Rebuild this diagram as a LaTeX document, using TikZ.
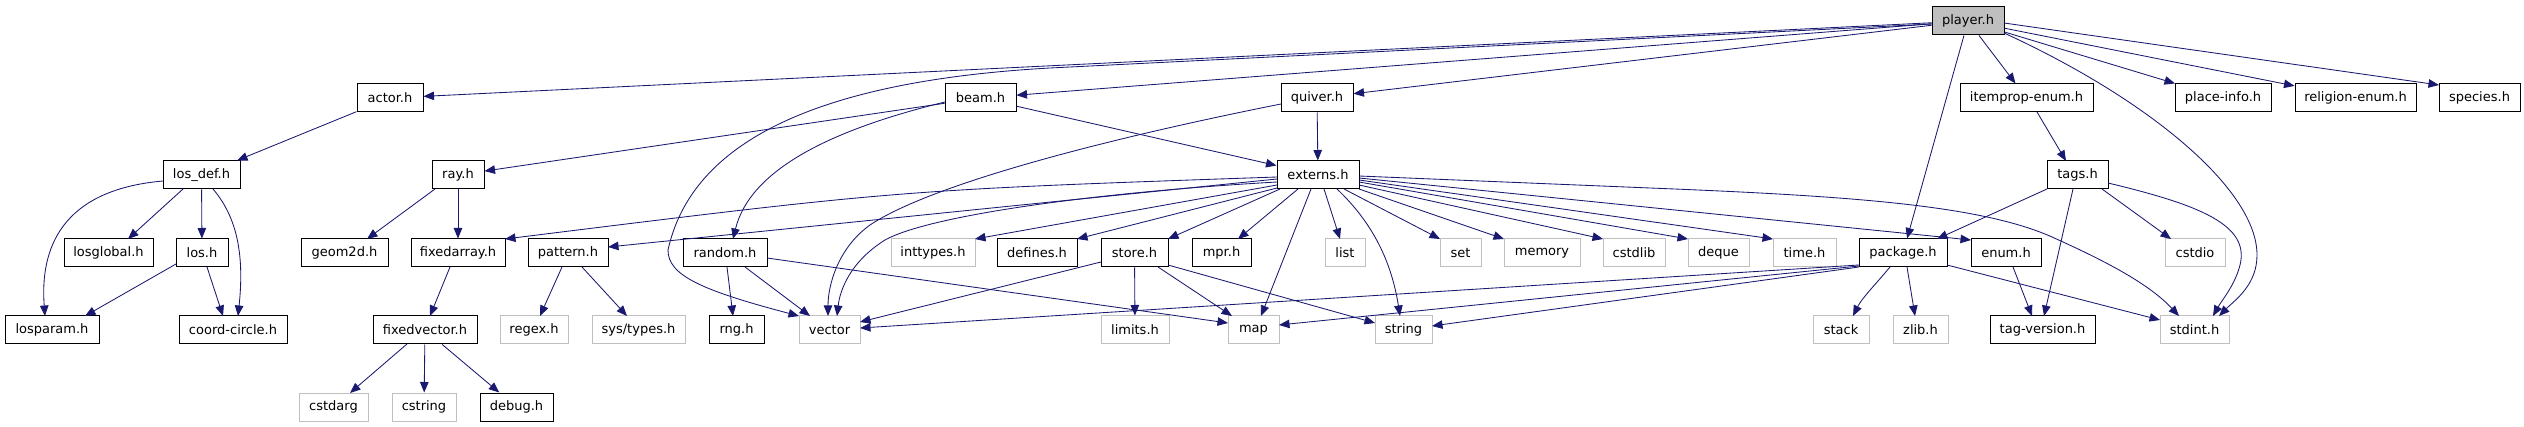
\documentclass[tikz,border=0pt]{standalone}
\usepackage{fontspec}
\setmainfont{DejaVu Sans}
\usetikzlibrary{arrows.meta,calc}
\definecolor{edgeblue}{HTML}{191970}
\definecolor{sysgray}{HTML}{BFBFBF}
\begin{document}
\begin{tikzpicture}[x=1pt,y=-1pt,
  hdr/.style={draw=black,line width=1pt,fill=white,inner sep=0pt,minimum height=28pt,font=\fontsize{13}{15}\selectfont,text=black},
  sys/.style={hdr,draw=sysgray},
  cur/.style={hdr,fill=sysgray},
  e/.style={draw=edgeblue,line width=0.85pt,-{Triangle[length=10.5pt,width=8.5pt]}}]
\useasboundingbox (0,0) rectangle (2524,427);
% row 0
\node[cur,minimum width=72pt] (player) at (1968,21) {player.h};
% row 1
\node[hdr,minimum width=66pt] (actor) at (390,98) {actor.h};
\node[hdr,minimum width=71pt] (beam) at (980.5,98) {beam.h};
\node[hdr,minimum width=72pt] (quiver) at (1317,98) {quiver.h};
\node[hdr,minimum width=133pt] (itemprop) at (2026.5,98) {itemprop-enum.h};
\node[hdr,minimum width=96pt] (placeinfo) at (2223,98) {place-info.h};
\node[hdr,minimum width=121pt] (religion) at (2355.5,98) {religion-enum.h};
\node[hdr,minimum width=81pt] (species) at (2479.5,98) {species.h};
% row 2
\node[hdr,minimum width=77pt] (losdef) at (201.5,175) {los\_def.h};
\node[hdr,minimum width=52pt] (ray) at (458,175) {ray.h};
\node[hdr,minimum width=82pt] (externs) at (1318,175) {externs.h};
\node[hdr,minimum width=61pt] (tags) at (2077.5,175) {tags.h};
% row 3
\node[hdr,minimum width=89pt] (losglobal) at (108.5,253) {losglobal.h};
\node[hdr,minimum width=52pt] (los) at (202,253) {los.h};
\node[hdr,minimum width=87pt] (geom) at (344.5,253) {geom2d.h};
\node[hdr,minimum width=94pt] (fixedarray) at (458,253) {fixedarray.h};
\node[hdr,minimum width=80pt] (pattern) at (568,253) {pattern.h};
\node[hdr,minimum width=84pt] (random) at (725,253) {random.h};
\node[sys,minimum width=84pt] (inttypes) at (933,253) {inttypes.h};
\node[hdr,minimum width=80pt] (defines) at (1037,253) {defines.h};
\node[hdr,minimum width=67pt] (store) at (1134.5,253) {store.h};
\node[hdr,minimum width=59pt] (mpr) at (1221.5,253) {mpr.h};
\node[sys,minimum width=40pt] (list) at (1345,253) {list};
\node[sys,minimum width=41pt] (set) at (1460.5,253) {set};
\node[sys,minimum width=76pt] (memory) at (1542,253) {memory};
\node[sys,minimum width=62pt] (cstdlib) at (1634,253) {cstdlib};
\node[sys,minimum width=61pt] (deque) at (1718.5,253) {deque};
\node[sys,minimum width=63pt] (timeh) at (1804.5,253) {time.h};
\node[hdr,minimum width=88pt] (package) at (1903,253) {package.h};
\node[hdr,minimum width=70pt] (enum) at (2006,253) {enum.h};
\node[sys,minimum width=60pt] (cstdio) at (2195,253) {cstdio};
% row 4
\node[hdr,minimum width=94pt] (losparam) at (52,330) {losparam.h};
\node[hdr,minimum width=108pt] (coordcircle) at (233,330) {coord-circle.h};
\node[hdr,minimum width=104pt] (fixedvector) at (425,330) {fixedvector.h};
\node[sys,minimum width=68pt] (regex) at (534,330) {regex.h};
\node[sys,minimum width=93pt] (systypes) at (638.5,330) {sys/types.h};
\node[hdr,minimum width=55pt] (rng) at (736.5,330) {rng.h};
\node[sys,minimum width=61pt] (vector) at (829.5,330) {vector};
\node[sys,minimum width=68pt] (limits) at (1135,330) {limits.h};
\node[sys,minimum width=51pt] (map) at (1253.5,330) {map};
\node[sys,minimum width=57pt] (string) at (1403.5,330) {string};
\node[sys,minimum width=56pt] (stack) at (1841,330) {stack};
\node[sys,minimum width=55pt] (zlib) at (1920.5,330) {zlib.h};
\node[hdr,minimum width=105pt] (tagversion) at (2042.5,330) {tag-version.h};
\node[sys,minimum width=69pt] (stdint) at (2194.5,330) {stdint.h};
% row 5
\node[sys,minimum width=69pt] (cstdarg) at (333.5,407) {cstdarg};
\node[sys,minimum width=64pt] (cstring) at (424,407) {cstring};
\node[hdr,minimum width=73pt] (debug) at (516.5,407) {debug.h};

% ---- edges from player.h
\draw[e] (player) -- (actor);
\draw[e] ($(player)+(-36,3)$) -- (1050,68) .. controls (800,82) and (690,150) .. (668,250) .. controls (668,275) and (700,290) .. ($(vector)+(-30.5,-14)$);
\draw[e] (player) -- (beam);
\draw[e] (player) -- (quiver);
\draw[e] (player) -- (package);
\draw[e] (player) -- (itemprop);
\draw[e] (player) -- (placeinfo);
\draw[e] (player) -- (religion);
\draw[e] ($(player)+(36,2)$) -- ($(species)+(-40.5,-13)$);
\draw[e] ($(player)+(36,12)$) .. controls (2150,100) and (2257,190) .. (2257,255) .. controls (2257,285) and (2235,300) .. ($(stdint)+(24.5,-14)$);

% ---- edges from externs.h
\draw[e] ($(externs)+(-41,2)$) .. controls (900,190) .. ($(fixedarray)+(47,-14)$);
\draw[e] ($(externs)+(-41,4)$) -- ($(pattern)+(40,-6)$);
\draw[e] ($(externs)+(-41,7)$) .. controls (1100,192) and (930,215) .. (885,240) .. controls (850,262) and (840,290) .. ($(vector)+(7.5,-14)$);
\draw[e] ($(externs)+(-41,10)$) -- ($(inttypes)+(42,-14)$);
\draw[e] ($(externs)+(-41,13)$) -- ($(defines)+(40,-14)$);
\draw[e] ($(externs)+(-38,14)$) -- ($(store)+(33.5,-14)$);
\draw[e] ($(externs)+(-20,14)$) -- ($(mpr)+(16.5,-14)$);
\draw[e] ($(externs)+(-7,14)$) -- ($(map)+(7.5,-14)$);
\draw[e] ($(externs)+(6,14)$) -- ($(list)+(-5,-14)$);
\draw[e] ($(externs)+(19,14)$) .. controls (1375,225) and (1392,265) .. ($(string)+(-3.5,-14)$);
\draw[e] ($(externs)+(26,14)$) -- ($(set)+(-20.5,-14)$);
\draw[e] ($(externs)+(41,14)$) -- ($(memory)+(-38,-14)$);
\draw[e] ($(externs)+(41,10)$) -- ($(cstdlib)+(-31,-14)$);
\draw[e] ($(externs)+(41,7)$) -- ($(deque)+(-30.5,-14)$);
\draw[e] ($(externs)+(41,5)$) -- ($(timeh)+(-31.5,-14)$);
\draw[e] ($(externs)+(41,3)$) -- ($(enum)+(-35,-13)$);
\draw[e] ($(externs)+(41,1)$) -- (1650,188) .. controls (1850,196) and (1980,205) .. (2052,237) .. controls (2110,263) and (2150,285) .. ($(stdint)+(-15.5,-14)$);

% ---- beam.h, quiver.h
\draw[e] (beam) -- (ray);
\draw[e] ($(beam)+(-35.5,4)$) .. controls (830,130) and (750,170) .. ($(random)+(8,-14)$);
\draw[e] (beam) -- (externs);
\draw[e] (quiver) -- (externs);
\draw[e] ($(quiver)+(-36,6)$) .. controls (1100,140) and (930,185) .. (870,225) .. controls (838,248) and (828,285) .. ($(vector)+(-1.5,-14)$);

% ---- random.h, pattern.h
\draw[e] ($(random)+(2,14)$) -- ($(rng)+(-3.5,-14)$);
\draw[e] ($(random)+(20,14)$) -- ($(vector)+(-19.5,-14)$);
\draw[e] ($(random)+(42,5)$) -- ($(map)+(-25.5,-7)$);
\draw[e] ($(pattern)+(-6,14)$) -- ($(regex)+(6,-14)$);
\draw[e] ($(pattern)+(14,14)$) -- ($(systypes)+(-11.5,-14)$);

% ---- ray.h, fixedarray.h, fixedvector.h
\draw[e] ($(ray)+(-23,14)$) -- ($(geom)+(22.5,-14)$);
\draw[e] (ray) -- (fixedarray);
\draw[e] ($(fixedarray)+(-8,14)$) -- ($(fixedvector)+(5,-14)$);
\draw[e] ($(fixedvector)+(-18,14)$) -- ($(cstdarg)+(16.5,-14)$);
\draw[e] (fixedvector) -- (cstring);
\draw[e] (fixedvector) -- (debug);

% ---- actor.h, los_def.h, los.h
\draw[e] (actor) -- (losdef);
\draw[e] ($(losdef)+(-38.5,6)$) .. controls (60,190) and (40,250) .. ($(losparam)+(-7,-14)$);
\draw[e] ($(losdef)+(-18.5,14)$) -- ($(losglobal)+(19.5,-14)$);
\draw[e] (losdef) -- (los);
\draw[e] ($(losdef)+(11.5,14)$) .. controls (235,215) and (245,250) .. ($(coordcircle)+(5,-14)$);
\draw[e] ($(los)+(-26,11)$) -- ($(losparam)+(33,-14)$);
\draw[e] ($(los)+(5,14)$) -- ($(coordcircle)+(-10,-14)$);

% ---- store.h
\draw[e] ($(store)+(-33.5,9)$) -- ($(vector)+(30.5,-8)$);
\draw[e] (store) -- (limits);
\draw[e] ($(store)+(23.5,14)$) -- ($(map)+(-21.5,-14)$);
\draw[e] ($(store)+(33.5,12)$) -- ($(string)+(-28.5,-7)$);

% ---- package.h
\draw[e] ($(package)+(-13,14)$) .. controls (1875,285) and (1862,298) .. ($(stack)+(12,-14)$);
\draw[e] ($(package)+(4,14)$) -- ($(zlib)+(-5.5,-14)$);
\draw[e] ($(package)+(44,12)$) -- ($(stdint)+(-34.5,-10)$);
\draw[e] ($(package)+(-44,12)$) -- ($(vector)+(30.5,-2)$);
\draw[e] ($(package)+(-44,13)$) -- ($(map)+(25.5,-5)$);
\draw[e] ($(package)+(-44,14)$) -- ($(string)+(28.5,-4)$);

% ---- tags.h, enum.h, itemprop-enum.h
\draw[e] ($(tags)+(-30.5,14)$) -- ($(package)+(34,-14)$);
\draw[e] ($(tags)+(-4.5,14)$) -- ($(tagversion)+(1.5,-14)$);
\draw[e] ($(tags)+(24.5,14)$) -- ($(cstdio)+(-24,-14)$);
\draw[e] ($(tags)+(30.5,8)$) .. controls (2200,205) and (2250,225) .. (2240,265) .. controls (2235,285) and (2222,300) .. ($(stdint)+(18.5,-14)$);
\draw[e] ($(enum)+(7,14)$) -- ($(tagversion)+(-10.5,-14)$);
\draw[e] ($(itemprop)+(10.5,14)$) -- ($(tags)+(-11.5,-14)$);
\end{tikzpicture}
\end{document}
